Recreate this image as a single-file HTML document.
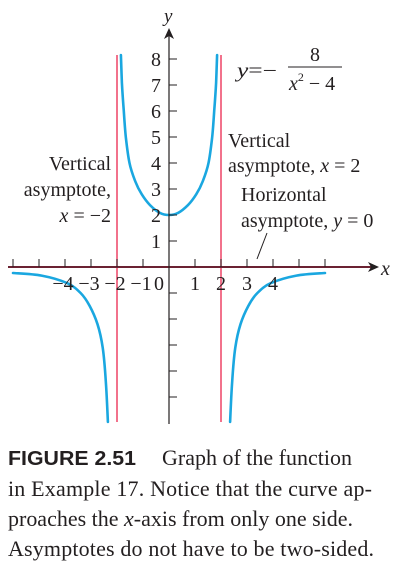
<!DOCTYPE html>
<html><head><meta charset="utf-8"><style>
html,body{margin:0;padding:0;background:#fff;width:401px;height:568px;overflow:hidden}
svg{display:block}
text{font-family:"Liberation Serif",serif;fill:#231f20}
text.sans{font-family:"Liberation Sans",sans-serif}
.cap{font-size:22px}
</style></head><body>
<svg width="401" height="568" id="chart">
<g id="plot"></g>
<text x="164" y="22" font-size="19" font-style="italic">y</text>
<text x="381" y="275" font-size="20" font-style="italic">x</text>
<g font-size="20">
<text x="237" y="77" textLength="40" lengthAdjust="spacingAndGlyphs"><tspan font-style="italic">y</tspan>=−</text>
<text x="310" y="61">8</text>
<line x1="288" y1="67" x2="342" y2="67" stroke="#231f20" stroke-width="1"/>
<text x="289" y="90"><tspan font-style="italic">x</tspan><tspan font-size="12" dy="-9">2</tspan><tspan dy="9"> − 4</tspan></text>
</g>
<g font-size="20" text-anchor="end">
<text x="111" y="170">Vertical</text>
<text x="111" y="196">asymptote,</text>
<text x="111" y="222"><tspan font-style="italic">x</tspan> = −2</text>
</g>
<g font-size="20">
<text x="228" y="147">Vertical</text>
<text x="228" y="172">asymptote, <tspan font-style="italic">x</tspan> = 2</text>
</g>
<g font-size="20">
<text x="241" y="201">Horizontal</text>
<text x="241" y="227">asymptote, <tspan font-style="italic">y</tspan> = 0</text>
<line x1="267" y1="233" x2="257" y2="259" stroke="#231f20" stroke-width="1"/>
</g>
<g class="cap">
<text class="sans" x="8" y="465" font-weight="bold" font-size="20" textLength="128" lengthAdjust="spacingAndGlyphs">FIGURE 2.51</text>
<text x="162" y="465">Graph of the function</text>
<text x="8" y="496" textLength="364" lengthAdjust="spacing">in Example 17. Notice that the curve ap-</text>
<text x="8" y="526" textLength="345" lengthAdjust="spacing">proaches the <tspan font-style="italic">x</tspan>-axis from only one side.</text>
<text x="8" y="556" textLength="366" lengthAdjust="spacing">Asymptotes do not have to be two-sided.</text>
</g>
</svg>
<script>
const xTicks=[-6,-5,-4,-3,-2,-1,1,2,3,4,5,6];
const xTickLabels=["−4","−3","−2","−1","0","1","2","3","4"];
const xTickLabelVals=[-4,-3,-2,-1,0,1,2,3,4];
const yTicks=[-5,-4,-3,-2,-1,1,2,3,4,5,6,7,8];
const yTickLabels=[1,2,3,4,5,6,7,8];
const asymptotesX=[-2,2];
const midX=[-1.85,-1.81,-1.74,-1.66,-1.52,-1.3,-1.05,-0.73,-0.35,0,0.35,0.73,1.05,1.3,1.52,1.66,1.74,1.81,1.85];
const midY=[8.15,7.08,6.0,5.0,4.0,3.3,2.8,2.38,2.08,2,2.08,2.38,2.8,3.3,4.0,5.0,6.0,7.08,8.15];
const leftX=[-6,-4.9,-3.92,-3.4,-3.05,-2.75,-2.55,-2.43,-2.35];
const leftY=[-0.23,-0.33,-0.62,-1.0,-1.5,-2.2,-3.1,-4.4,-5.96];
const rightX=[6,4.9,3.92,3.4,3.05,2.75,2.55,2.43,2.35];
const rightY=[-0.23,-0.33,-0.62,-1.0,-1.5,-2.2,-3.1,-4.4,-5.96];

const sx=v=>169+v*26, sy=v=>267-v*26;
const NS="http://www.w3.org/2000/svg";
const g=document.getElementById('plot');
function mk(t,a){const e=document.createElementNS(NS,t);for(const k in a)e.setAttribute(k,a[k]);g.appendChild(e);return e;}
asymptotesX.forEach(v=>{
 const l=mk('line',{x1:sx(v),x2:sx(v),y1:55,y2:422,stroke:'#ee4466','stroke-width':1.5});
 
 
});
function path(xs,ys,name){
 const P=xs.map((x,i)=>[sx(x),sy(ys[i])]);
 let d='M'+P[0][0].toFixed(1)+','+P[0][1].toFixed(1);
 for(let i=0;i<P.length-1;i++){
  const p0=P[Math.max(i-1,0)],p1=P[i],p2=P[i+1],p3=P[Math.min(i+2,P.length-1)];
  const c1=[p1[0]+(p2[0]-p0[0])/6,p1[1]+(p2[1]-p0[1])/6];
  const c2=[p2[0]-(p3[0]-p1[0])/6,p2[1]-(p3[1]-p1[1])/6];
  d+='C'+c1.map(n=>n.toFixed(1)).join(',')+' '+c2.map(n=>n.toFixed(1)).join(',')+' '+p2.map(n=>n.toFixed(1)).join(',');
 }
 const p=mk('path',{d:d,fill:'none',stroke:'#1aa7e0','stroke-width':2.6,'stroke-linejoin':'round','stroke-linecap':'round'});
 
 
}
path(midX,midY,'curve-middle-branch');
path(leftX,leftY,'curve-left-branch');
path(rightX,rightY,'curve-right-branch');
const xa=mk('line',{x1:8,x2:372,y1:267,y2:267,stroke:'#6b2232','stroke-width':2});


const xar=mk('path',{d:'M379,267 L368,262 L371,267 L368,272 Z',fill:'#231f20'});


const ya=mk('line',{x1:169,x2:169,y1:36,y2:424,stroke:'#231f20','stroke-width':1.2});


const yar=mk('path',{d:'M169,28 L164,39 L169,36 L174,39 Z',fill:'#231f20'});


xTicks.forEach(v=>{
 const t=mk('line',{x1:sx(v),x2:sx(v),y1:259,y2:267,stroke:'#231f20','stroke-width':1});
 
 
});
yTicks.forEach(v=>{
 const t=mk('line',{x1:169,x2:177,y1:sy(v),y2:sy(v),stroke:'#231f20','stroke-width':1});
 
 
});
xTickLabels.forEach((s,i)=>{
 const v=xTickLabelVals[i];
 const t=mk('text',{x:v===0?sx(v)-10:(v<0?sx(v)-2:sx(v)),y:290,'font-size':20,'text-anchor':'middle'});
 t.textContent=s;
 
 
});
yTickLabels.forEach(v=>{
 const t=mk('text',{x:161,y:sy(v)+7,'font-size':20,'text-anchor':'end'});
 t.textContent=v;
 
 
});
</script>
</body></html>
